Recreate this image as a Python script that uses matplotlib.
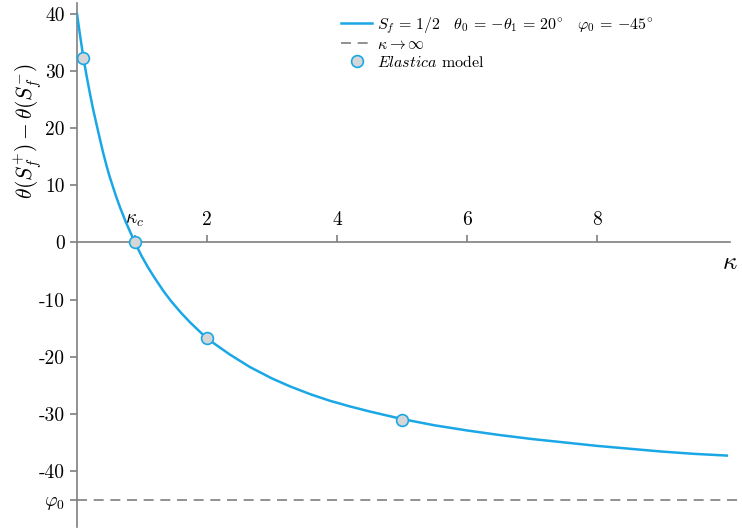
import matplotlib
matplotlib.use("Agg")
import matplotlib.pyplot as plt

plt.rcParams['font.family'] = 'serif'
plt.rcParams['font.serif'] = ['cmr10', 'DejaVu Serif']
plt.rcParams['mathtext.fontset'] = 'cm'
plt.rcParams['axes.unicode_minus'] = False
plt.rcParams['axes.formatter.use_mathtext'] = True

# curve
kappa = [0, 0.05, 0.1, 0.15, 0.2, 0.25, 0.33, 0.4, 0.46, 0.5, 0.56, 0.6, 0.66,
         0.75, 0.89, 1.0, 1.1, 1.2, 1.33, 1.45, 1.6, 1.75, 2.0, 2.2, 2.35,
         2.66, 3.0, 3.28, 3.6, 3.89, 4.2, 4.51, 5.0, 5.5, 6.0, 6.5, 7.0, 7.5,
         8.0, 8.5, 9.0, 9.5, 10.0]
theta_diff = [40, 36.0, 32.2, 29.0, 26.0, 23.2, 19.2, 15.8, 13.2, 11.6, 9.5,
              8.1, 6.2, 3.6, 0, -2.5, -4.5, -6.3, -8.5, -10.3, -12.3, -14.1,
              -16.8, -18.4, -19.6, -21.8, -23.8, -25.2, -26.6, -27.7, -28.7,
              -29.6, -30.9, -32.0, -32.9, -33.7, -34.4, -35.0, -35.6, -36.1,
              -36.6, -37.0, -37.3]

# elastica model points
elastica_k = [0.1, 0.89, 2.0, 5.0]
elastica_v = [32.2, 0, -16.8, -31.0]

# asymptote
phi0 = -45
asym_x = [0, 10.25]
asym_y = [phi0, phi0]

xticks = [0.89, 2, 4, 6, 8]
xticklabels = [r'$\kappa_c$', '2', '4', '6', '8']
yticks = [40, 30, 20, 10, 0, -10, -20, -30, -40, -45]
yticklabels = ['40', '30', '20', '10', '0', '-10', '-20', '-30', '-40', r'$\varphi_0$']

blue = '#1aa7e6'
gray = '#7f7f7f'

fig = plt.figure(figsize=(7.42, 5.31), dpi=100)
ax = fig.add_axes([77/742, 1 - 527/531, (730 - 77)/742, 524/531])

ax.plot(kappa, theta_diff, color=blue, lw=1.8,
        label=r'$S_f \,=\, 1/2 \quad \theta_0 \,=\, {-\theta_1} \,=\, 20^{\circ} \quad \varphi_0 \,=\, {-45^{\circ}}$',
        zorder=3)
ax.plot(asym_x, asym_y, color=gray, lw=1.2, dashes=(6, 4), clip_on=False,
        label=r'$\kappa \to \infty$', zorder=2)
ax.plot(elastica_k, elastica_v, ls='none', marker='o', ms=8.5, mfc='#d6d6d6',
        mec=blue, mew=1.2, label=r'$\mathit{Elastica}$ model', zorder=4,
        clip_on=False)

ax.set_xlim(0, 10.05)
ax.set_ylim(-49.8, 41.9)

for s in ['right', 'bottom']:
    ax.spines[s].set_visible(False)
ax.spines['top'].set_position(('data', 0))
ax.spines['top'].set_color(gray)
ax.spines['left'].set_color(gray)
ax.spines['top'].set_linewidth(1.2)
ax.spines['left'].set_linewidth(1.2)

ax.xaxis.set_ticks_position('top')
ax.set_xticks(xticks)
ax.set_xticklabels(xticklabels)
ax.set_yticks(yticks)
ax.set_yticklabels(yticklabels)
ax.tick_params(axis='x', direction='out', length=5, width=1.2, color=gray,
               labelsize=14, pad=5)
ax.tick_params(axis='y', direction='out', length=5, width=1.2, color=gray,
               labelsize=14, pad=4)

ax.text(10.05, -3.6, r'$\kappa$', fontsize=18, ha='center', va='center')
ax.text(-0.75, 19.5, r'$\theta(S_f^{+}) - \theta(S_f^{-})$', fontsize=15.5,
        rotation=90, ha='center', va='center')

leg = ax.legend(loc='upper left', bbox_to_anchor=(341/742, 1 - 15/531),
                bbox_transform=fig.transFigure, frameon=False, fontsize=11.5,
                borderpad=0, borderaxespad=0, handlelength=1.95,
                handletextpad=0.3, labelspacing=0.12)

fig.savefig('out.png', dpi=100)
